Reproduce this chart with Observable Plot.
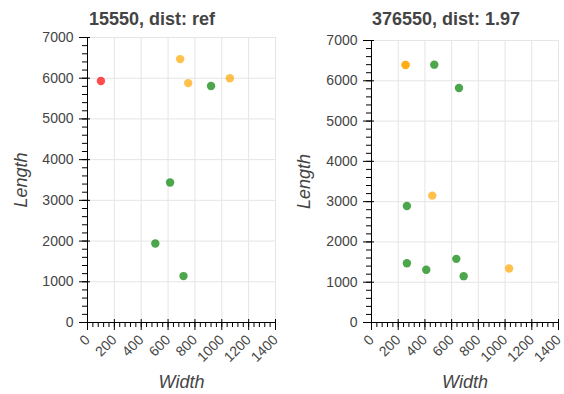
<!DOCTYPE html>
<html>
<head>
<meta charset="utf-8">
<script src="https://cdn.jsdelivr.net/npm/d3@7"></script>
<script src="https://cdn.jsdelivr.net/npm/@observablehq/plot@0.6"></script>
<style>
  html, body { margin: 0; padding: 0; background: #fff; }
  #wrap { position: relative; width: 564px; height: 394px; overflow: hidden; }
  .panel { position: absolute; top: 0; width: 282px; }
  .title { height: 26px; box-sizing: border-box; font: bold 18px 'Liberation Sans', Arial, sans-serif; color: #444; line-height: 1; white-space: nowrap; overflow: visible; }
</style>
</head>
<body>
<div id="wrap"></div>
<script>
// ---- data ----
const categories = ["red", "orange", "green"];
const categoryColors = ["#ff0000", "#ffa500", "#008000"];

const leftTitle = "15550, dist: ref";
const leftWidth  = [100, 690, 750, 1060, 920, 615, 505, 715];
const leftLength = [5930, 6470, 5880, 6000, 5810, 3440, 1940, 1140];
const leftCat    = ["red", "orange", "orange", "orange", "green", "green", "green", "green"];

const rightTitle = "376550, dist: 1.97";
const rightWidth  = [255, 255, 470, 655, 455, 265, 265, 410, 635, 690, 1030];
const rightLength = [6390, 6395, 6400, 5820, 3150, 2890, 1470, 1310, 1580, 1150, 1340];
const rightCat    = ["orange", "orange", "green", "green", "orange", "green", "green", "green", "green", "green", "orange"];

const xMajor = [0, 200, 400, 600, 800, 1000, 1200, 1400];
const xMinor = d3.range(0, 1401, 40);
const yMajor = [0, 1000, 2000, 3000, 4000, 5000, 6000, 7000];
const yMinor = d3.range(0, 7001, 200);
const xLabel = "Width";
const yLabel = "Length";

const FONT = "'Liberation Sans', Arial, sans-serif";

function makePanel(left, title, widths, lengths, cats, m) {
  const panel = document.createElement("div");
  panel.className = "panel";
  panel.style.left = left + "px";
  const t = document.createElement("div");
  t.className = "title";
  t.style.paddingLeft = m.titleLeft + "px";
  t.style.paddingTop = m.titleTop + "px";
  t.textContent = title;
  panel.appendChild(t);

  const data = widths.map((w, i) => ({w, l: lengths[i], c: cats[i]}));
  const blank = () => "";
  const chart = Plot.plot({
    width: 282, height: 368,
    marginLeft: m.left, marginRight: m.right, marginTop: m.top, marginBottom: m.bottom,
    style: {fontFamily: FONT, fontSize: "14px", color: "#444", background: "white", overflow: "visible"},
    x: {domain: [0, 1400]},
    y: {domain: [0, 7000]},
    color: {domain: categories, range: categoryColors},
    marks: [
      Plot.gridX(xMajor, {stroke: "#e5e5e5", strokeOpacity: 1}),
      Plot.gridY(yMajor, {stroke: "#e5e5e5", strokeOpacity: 1}),
      Plot.frame({stroke: "#e5e5e5"}),
      Plot.dot(data, {x: "w", y: "l", fill: "c", r: 4.2, fillOpacity: 0.7}),
      Plot.axisX({ticks: xMinor, tickSize: 5, tickFormat: blank, label: null, stroke: "#000"}),
      Plot.axisX({ticks: xMajor, tickSize: 8, tickRotate: -45, tickPadding: 7, label: null, stroke: "#000", fill: "#444", tickFormat: d => String(d)}),
      Plot.axisX({ticks: xMajor, tickSize: -3, tickFormat: blank, label: null, stroke: "#000"}),
      Plot.axisX({ticks: [], label: xLabel, labelAnchor: "center", labelOffset: 65, labelArrow: "none", fontSize: 18, fontStyle: "italic", fill: "#444"}),
      Plot.axisY({ticks: yMinor, tickSize: 5, tickFormat: blank, label: null, stroke: "#000"}),
      Plot.axisY({ticks: yMajor, tickSize: 8, tickPadding: 6, label: null, stroke: "#000", fill: "#444", tickFormat: d => String(d)}),
      Plot.axisY({ticks: yMajor, tickSize: -3, tickFormat: blank, label: null, stroke: "#000"}),
      Plot.axisY({ticks: [], label: yLabel, labelAnchor: "center", labelOffset: m.yLabelOffset, labelArrow: "none", fontSize: 18, fontStyle: "italic", fill: "#444"}),
      Plot.ruleX([0], {stroke: "#000"}),
      Plot.ruleY([0], {stroke: "#000"})
    ]
  });
  chart.style.display = "block";
  panel.appendChild(chart);
  document.getElementById("wrap").appendChild(panel);
}

makePanel(0, leftTitle, leftWidth, leftLength, leftCat,
  {left: 87, right: 7, top: 11, bottom: 72, titleLeft: 89, titleTop: 10, yLabelOffset: 73});
makePanel(282, rightTitle, rightWidth, rightLength, rightCat,
  {left: 89, right: 6, top: 14, bottom: 72, titleLeft: 90, titleTop: 10, yLabelOffset: 74});
</script>
</body>
</html>
